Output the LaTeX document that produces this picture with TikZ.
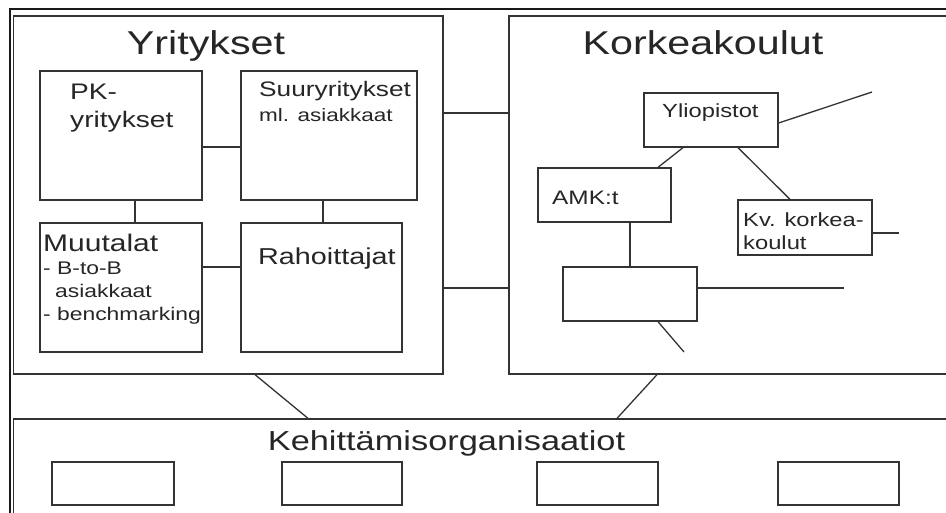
\documentclass[tikz,border=0pt]{standalone}
\usepackage{fontspec}
\setmainfont[FakeStretch=1.25]{Liberation Sans}
\begin{document}
\begin{tikzpicture}[x=1pt,y=-1pt,
  ink/.style={draw=black!80, line width=1.3pt},
  frame/.style={draw=black!90, line width=2.3pt, rectangle, inner sep=0pt},
  box/.style={ink, rectangle, inner sep=0pt, fill=white},
  link/.style={ink},
  lbl/.style={anchor=base west, inner sep=0pt, text=black!85},
  ttl/.style={anchor=base, inner sep=0pt, text=black!85},
  fs/.style={font=\fontsize{#1}{#1}\selectfont}]
\useasboundingbox (0,0) rectangle (946,513);
\clip (0,0) rectangle (946,513);
\fill[white] (0,0) rectangle (946,513);

% outer frame running past the page edges
\node[frame, minimum width=990pt, minimum height=560pt] (outer) at (505,289) {};

% the three large groups
\node[box, minimum width=429.5pt, minimum height=358pt] (yrit) at (228.25,195) {};
\node[box, minimum width=471pt, minimum height=358pt] (kork) at (744.5,195) {};
\node[box, minimum width=966.5pt, minimum height=121pt] (keh) at (496.75,479.5) {};

% Yritykset
\node[box, minimum width=162pt, minimum height=129pt] (pk) at (121,135.5) {};
\node[box, minimum width=176pt, minimum height=129pt] (suur) at (329,135.5) {};
\node[box, minimum width=162pt, minimum height=129pt] (muut) at (121,287.5) {};
\node[box, minimum width=161pt, minimum height=129pt] (raho) at (321.5,287.5) {};

% Korkeakoulut
\node[box, minimum width=134pt, minimum height=54pt] (yliop) at (711,120) {};
\node[box, minimum width=133pt, minimum height=54pt] (amk) at (604.5,195) {};
\node[box, minimum width=134pt, minimum height=55pt] (kv) at (805,227.5) {};
\node[box, minimum width=134pt, minimum height=54pt] (tyhja) at (630,294) {};

% Kehittamisorganisaatiot
\node[box, minimum width=122pt, minimum height=43pt] (k1) at (113,483.5) {};
\node[box, minimum width=120pt, minimum height=43pt] (k2) at (342,483.5) {};
\node[box, minimum width=121pt, minimum height=43pt] (k3) at (597.5,483.5) {};
\node[box, minimum width=121pt, minimum height=43pt] (k4) at (838.5,483.5) {};

% free ends of open connectors
\coordinate (yfree) at (872,92);
\coordinate (kvfree) at (899,233);
\coordinate (tfree) at (844,288);
\coordinate (tfree2) at (684,352);

% connectors
\draw[link] ([yshift=-11.5pt]pk.east) -- ([yshift=-11.5pt]pk.east -| suur.west);
\draw[link] ([xshift=14pt]pk.south) -- ([xshift=14pt]pk.south |- muut.north);
\draw[link] ([xshift=-6pt]suur.south) -- ([xshift=-6pt]suur.south |- raho.north);
\draw[link] ([yshift=20.5pt]muut.east) -- ([yshift=20.5pt]muut.east -| raho.west);
\draw[link] ([yshift=82pt]yrit.east) -- ([yshift=82pt]yrit.east -| kork.west);
\draw[link] ([yshift=-93pt]yrit.east) -- ([yshift=-93pt]yrit.east -| kork.west);
\draw[link] ([xshift=26.75pt]yrit.south) -- ([xshift=-188.75pt]keh.north);
\draw[link] ([xshift=-87.5pt]kork.south) -- ([xshift=120.25pt]keh.north);
\draw[link] ([xshift=-28pt]yliop.south) -- ([xshift=53.5pt]amk.north);
\draw[link] ([xshift=27pt]yliop.south) -- ([xshift=-15pt]kv.north);
\draw[link] ([yshift=-3pt]yliop.east) -- (yfree);
\draw[link] (amk.south -| tyhja.north) -- (tyhja.north);
\draw[link] ([yshift=-5.5pt]kv.east) -- (kvfree);
\draw[link] ([yshift=6pt]tyhja.east) -- (tfree);
\draw[link] ([xshift=28pt]tyhja.south) -- (tfree2);

% titles
\node[ttl, fs=33] (tyrit) at (206,55) {Yritykset};
\node[ttl, fs=33] (tkork) at (703,55) {Korkeakoulut};
\node[ttl, fs=27.5] (tkeh) at (446.5,450) {Kehittämisorganisaatiot};

% box texts
\node[lbl, fs=22.5] (tpk1) at (70,100) {PK-};
\node[lbl, fs=22.5] (tpk2) at (70,128) {yritykset};
\node[lbl, fs=21] (tsuur1) at (259,97) {Suuryritykset};
\node[lbl, fs=18] (tsuur2) at (259,122) {ml. asiakkaat};
\node[lbl, fs=24] (tmuut1) at (43,252) {Muutalat};
\node[lbl, fs=18.3] (tmuut2) at (43,275) {- B-to-B};
\node[lbl, fs=18.3] (tmuut3) at (55,298) {asiakkaat};
\node[lbl, fs=18.3] (tmuut4) at (43,321) {- benchmarking};
\node[lbl, fs=23] (traho) at (258,265) {Rahoittajat};
\node[lbl, fs=19] (tyliop) at (662,118) {Yliopistot};
\node[lbl, fs=19.5] (tamk) at (552,205) {AMK:t};
\node[lbl, fs=19] (tkv1) at (743,227) {Kv. korkea-};
\node[lbl, fs=19] (tkv2) at (743,250) {koulut};
\end{tikzpicture}
\end{document}
